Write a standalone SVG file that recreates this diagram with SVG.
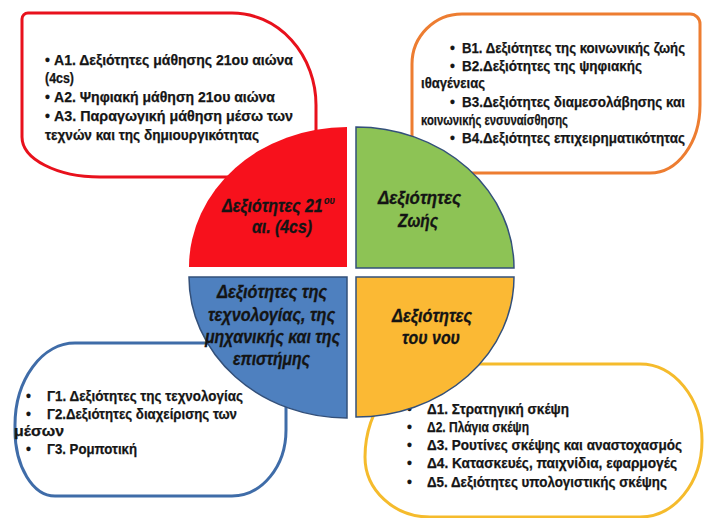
<svg xmlns="http://www.w3.org/2000/svg" width="704" height="518" viewBox="0 0 704 518">
<style>
.box{fill:#ffffff;stroke-width:3;stroke-linejoin:round}
.t{font-family:"Liberation Sans","DejaVu Sans",sans-serif;font-weight:bold;font-size:14px;fill:#151515;stroke:#151515;stroke-width:0.25}
.q{font-family:"Liberation Sans","DejaVu Sans",sans-serif;font-weight:bold;font-style:italic;font-size:17.5px;fill:#141414;stroke:#141414;stroke-width:0.3}
.sup{font-size:10px;stroke-width:0.15}
.qs{stroke:#33507a;stroke-width:1.5}
</style>
<rect width="704" height="518" fill="#ffffff"/>

<g id="box-A">
<path class="box" stroke="#e8111c" d="M28,13 H232 A84,92 0 0 1 316,105 V177 H100 A78,40 0 0 1 22,137 V19 A6,6 0 0 1 28,13 Z"/>
<text class="t" x="45" y="65">•</text>
<text class="t" x="54" y="65" textLength="239" lengthAdjust="spacingAndGlyphs">Α1. Δεξιότητες μάθησης 21ου αιώνα</text>
<text class="t" x="45" y="83" textLength="29" lengthAdjust="spacingAndGlyphs">(4cs)</text>
<text class="t" x="45" y="102">•</text>
<text class="t" x="54" y="102" textLength="221" lengthAdjust="spacingAndGlyphs">Α2. Ψηφιακή μάθηση 21ου αιώνα</text>
<text class="t" x="45" y="121">•</text>
<text class="t" x="54" y="121" textLength="239" lengthAdjust="spacingAndGlyphs">Α3. Παραγωγική μάθηση μέσω των</text>
<text class="t" x="45" y="140" textLength="214" lengthAdjust="spacingAndGlyphs">τεχνών και της δημιουργικότητας</text>
</g>

<g id="box-B">
<path class="box" stroke="#ed7d31" d="M462,14 H690 A10,10 0 0 1 700,24 V105 A50,68 0 0 1 650,173 H412 V64 A50,50 0 0 1 462,14 Z"/>
<text class="t" x="450" y="53">•</text>
<text class="t" x="462" y="53" textLength="223" lengthAdjust="spacingAndGlyphs">Β1. Δεξιότητες της κοινωνικής ζωής</text>
<text class="t" x="450" y="71">•</text>
<text class="t" x="462" y="71" textLength="180" lengthAdjust="spacingAndGlyphs">Β2.Δεξιότητες της ψηφιακής</text>
<text class="t" x="421" y="88" textLength="64" lengthAdjust="spacingAndGlyphs">ιθαγένειας</text>
<text class="t" x="450" y="107">•</text>
<text class="t" x="462" y="107" textLength="223" lengthAdjust="spacingAndGlyphs">Β3.Δεξιότητες διαμεσολάβησης και</text>
<text class="t" x="421" y="125" textLength="147" lengthAdjust="spacingAndGlyphs">κοινωνικής ενσυναίσθησης</text>
<text class="t" x="450" y="143">•</text>
<text class="t" x="462" y="143" textLength="223" lengthAdjust="spacingAndGlyphs">Β4.Δεξιότητες επιχειρηματικότητας</text>
</g>

<g id="box-C">
<path class="box" stroke="#3f6ca8" d="M75,343 H286 V430 A54,66 0 0 1 232,496 H55 A40,66 0 0 1 15,430 V425 A60,82 0 0 1 75,343 Z"/>
<text class="t" x="26" y="401">•</text>
<text class="t" x="47" y="401" textLength="196" lengthAdjust="spacingAndGlyphs">Γ1. Δεξιότητες της τεχνολογίας</text>
<text class="t" x="26" y="419">•</text>
<text class="t" x="47" y="419" textLength="190" lengthAdjust="spacingAndGlyphs">Γ2.Δεξιότητες διαχείρισης των</text>
<text class="t" x="14" y="436" textLength="50" lengthAdjust="spacingAndGlyphs">μέσων</text>
<text class="t" x="26" y="454">•</text>
<text class="t" x="47" y="454" textLength="90" lengthAdjust="spacingAndGlyphs">Γ3. Ρομποτική</text>
</g>

<g id="box-D">
<path class="box" stroke="#f5bb2c" d="M445,364 H640 A62,76.5 0 0 1 640,517 H430 A65,60 0 0 1 365,457 A80,93 0 0 1 445,364 Z"/>
<text class="t" x="407" y="414">•</text>
<text class="t" x="427" y="414" textLength="142" lengthAdjust="spacingAndGlyphs">Δ1. Στρατηγική σκέψη</text>
<text class="t" x="407" y="432">•</text>
<text class="t" x="427" y="432" textLength="102" lengthAdjust="spacingAndGlyphs">Δ2. Πλάγια σκέψη</text>
<text class="t" x="407" y="450">•</text>
<text class="t" x="427" y="450" textLength="255" lengthAdjust="spacingAndGlyphs">Δ3. Ρουτίνες σκέψης και αναστοχασμός</text>
<text class="t" x="407" y="468">•</text>
<text class="t" x="427" y="468" textLength="250" lengthAdjust="spacingAndGlyphs">Δ4. Κατασκευές, παιχνίδια, εφαρμογές</text>
<text class="t" x="407" y="487">•</text>
<text class="t" x="427" y="487" textLength="240" lengthAdjust="spacingAndGlyphs">Δ5. Δεξιότητες υπολογιστικής σκέψης</text>
</g>

<g id="quad-A">
<path fill="#f7111c" d="M347,267 H189 A158,140 0 0 1 347,127 Z"/>
<text class="q" x="222" y="212" textLength="113" lengthAdjust="spacingAndGlyphs">Δεξιότητες 21<tspan class="sup" dx="1.5" dy="-8">ου</tspan></text>
<text class="q" x="252" y="233" textLength="60" lengthAdjust="spacingAndGlyphs">αι. (4cs)</text>
</g>

<g id="quad-B">
<path class="qs" fill="#8dc355" d="M356,268 V127 A158,141 0 0 1 514,268 Z"/>
<text class="q" x="378" y="204" textLength="83" lengthAdjust="spacingAndGlyphs">Δεξιότητες</text>
<text class="q" x="398" y="227" textLength="40" lengthAdjust="spacingAndGlyphs">Ζωής</text>
</g>

<g id="quad-C">
<path class="qs" fill="#4e80bf" d="M347,277 V418 A158,141 0 0 1 189,277 Z"/>
<text class="q" x="217" y="298" textLength="110" lengthAdjust="spacingAndGlyphs">Δεξιότητες της</text>
<text class="q" x="208" y="321" textLength="127" lengthAdjust="spacingAndGlyphs">τεχνολογίας, της</text>
<text class="q" x="205" y="343" textLength="135" lengthAdjust="spacingAndGlyphs">μηχανικής και της</text>
<text class="q" x="233" y="365" textLength="77" lengthAdjust="spacingAndGlyphs">επιστήμης</text>
</g>

<g id="quad-D">
<path class="qs" fill="#fbb934" d="M356,277 H514 A158,140 0 0 1 356,417 Z"/>
<text class="q" x="392" y="322" textLength="80" lengthAdjust="spacingAndGlyphs">Δεξιότητες</text>
<text class="q" x="402" y="344" textLength="58" lengthAdjust="spacingAndGlyphs">του νου</text>
</g>
</svg>
